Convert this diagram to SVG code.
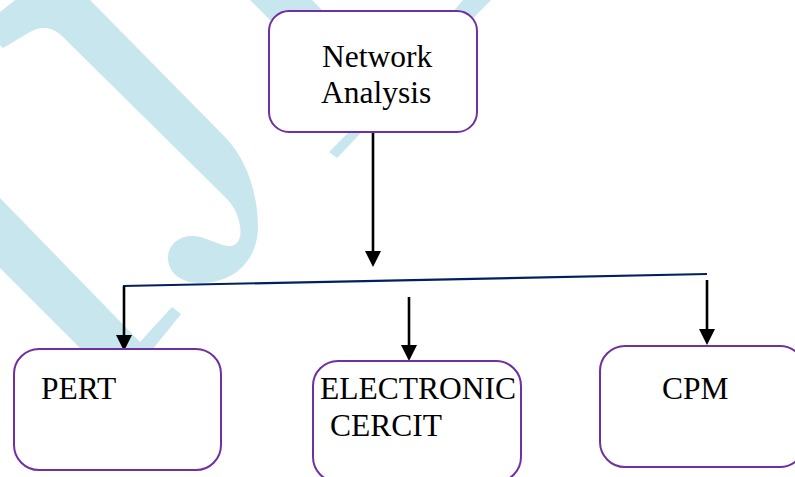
<svg xmlns="http://www.w3.org/2000/svg" width="795" height="477" viewBox="0 0 795 477">
  <style>
    .box { fill: #ffffff; stroke: #7030A0; stroke-width: 2; }
    .lbl { font-family: "Liberation Serif", "Times New Roman", serif; font-size: 31.5px; fill: #000000; }
    .wm { fill: #c8e6ee; stroke: none; }
    .arr { stroke: #000000; stroke-width: 2.6; fill: none; }
    .bus { stroke: #002060; stroke-width: 2.2; fill: none; }
  </style>
  <defs>
    <marker id="head" markerUnits="userSpaceOnUse" markerWidth="16" markerHeight="16" viewBox="0 0 16 16" refX="5" refY="8" orient="auto">
      <path d="M0,0 L16,8 L0,16 Z" fill="#000000"/>
    </marker>
  </defs>
  <rect width="795" height="477" fill="#ffffff"/>

  <g id="watermark">
    <path class="wm" d="M 15 0 L 90 0 L 225 137 C 245 158 258 190 258 228 C 257 260 235 283 200 283 C 180 283 168 272 168 258 C 168 244 180 236 192 236 C 205 236 215 244 228 246 C 238 247 242 238 240 226 C 238 212 232 204 224 196 L 62 36 C 52 26 40 26 30 32 L 3 48 L 0 45 L 0 12 Z"/>
    <path class="wm" d="M 0 198 L 140 342 L 172 307 L 181 314 L 152 350 L 82 350 L 0 268 Z"/>
    <path class="wm" d="M 250 0 L 312 0 L 380 68 L 318 68 Z"/>
    <path class="wm" d="M 463 0 L 491 0 L 357 137 L 337 158 L 329 152 L 350 131 Z"/>
  </g>

  <g id="connectors">
    <line class="arr" x1="373" y1="132" x2="373" y2="256" marker-end="url(#head)"/>
    <line class="bus" x1="123" y1="286" x2="707" y2="274"/>
    <line class="arr" x1="124" y1="286" x2="124" y2="340" marker-end="url(#head)"/>
    <line class="arr" x1="409" y1="297" x2="409" y2="350" marker-end="url(#head)"/>
    <line class="arr" x1="707" y1="280" x2="707" y2="334" marker-end="url(#head)"/>
  </g>

  <g id="node-network-analysis">
    <rect class="box" x="269" y="11" width="208" height="121" rx="20" ry="20"/>
    <text class="lbl" x="322" y="67">Network</text>
    <text class="lbl" x="321" y="103">Analysis</text>
  </g>

  <g id="node-pert">
    <rect class="box" x="14" y="349" width="207" height="121" rx="25" ry="25"/>
    <text class="lbl" x="41" y="399">PERT</text>
  </g>

  <g id="node-electronic-cercit">
    <rect class="box" x="313" y="361" width="208" height="121" rx="25" ry="25"/>
    <text class="lbl" x="320" y="399">ELECTRONIC</text>
    <text class="lbl" x="330" y="436">CERCIT</text>
  </g>

  <g id="node-cpm">
    <rect class="box" x="600" y="346" width="205" height="121" rx="25" ry="25"/>
    <text class="lbl" x="662" y="399">CPM</text>
  </g>
</svg>
